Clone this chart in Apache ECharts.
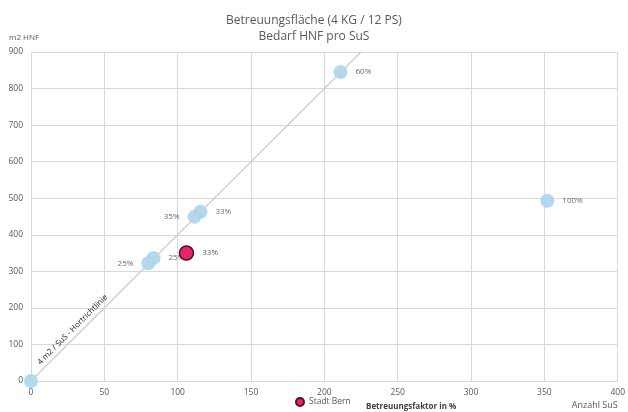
<!DOCTYPE html>
<html lang="de">
<head>
<meta charset="UTF-8" />
<script src="https://cdn.jsdelivr.net/npm/echarts@6/dist/echarts.min.js"></script>
<style>
  body{margin:0;padding:0;background:#fff;}
  #chart{width:628px;height:412px;}
</style>
</head>
<body>
<div id="chart"></div>
<script>
// Betreuungsfaktor-Punkte: [Anzahl SuS, m2 HNF]
var schoolPoints = [[0, 0], [80, 322], [83.5, 336], [111.5, 449], [115.5, 463], [211, 845], [352, 493]];
var schoolLabels = ['', '25%', '25%', '35%', '33%', '60%', '100%'];
var labelSides = ['right', 'left', 'right', 'left', 'right', 'right', 'right'];
var bernPoint = [[106, 350]];
var bernLabel = ['33%'];
var guideLine = [[0, 0], [225, 900]];  // 4 m2 / SuS
var xTicks = [0, 400, 50];
var yTicks = [0, 900, 100];

var grey = '#595959';
var font = 'Open Sans';

var chart = echarts.init(document.getElementById('chart'));

var option = {
  animation: false,
  textStyle: {fontFamily: font},
  title: {
    text: 'Betreuungsfläche (4 KG / 12 PS)\nBedarf HNF pro SuS',
    left: 'center',
    top: 8,
    textStyle: {fontSize: 12, fontWeight: 'normal', color: grey, lineHeight: 16, fontFamily: font}
  },
  grid: {left: 31, right: 8, top: 52, bottom: 31},
  xAxis: {
    type: 'value',
    min: xTicks[0], max: xTicks[1], interval: xTicks[2],
    name: 'Anzahl SuS',
    nameLocation: 'end',
    nameGap: 0,
    nameTextStyle: {color: grey, fontSize: 9, align: 'right', verticalAlign: 'top', padding: [20, 0, 0, 0]},
    axisLine: {show: true, lineStyle: {color: '#d9d9d9'}},
    axisTick: {show: false},
    axisLabel: {color: grey, fontSize: 8.5, margin: 7},
    splitLine: {show: true, lineStyle: {color: '#d9d9d9'}}
  },
  yAxis: {
    type: 'value',
    min: yTicks[0], max: yTicks[1], interval: yTicks[2],
    name: 'm2 HNF',
    nameLocation: 'end',
    nameGap: 10,
    nameTextStyle: {color: grey, fontSize: 8, align: 'left', padding: [0, 0, 0, -22]},
    axisLine: {show: true, lineStyle: {color: '#d9d9d9'}},
    axisTick: {show: false},
    axisLabel: {color: grey, fontSize: 8.5, margin: 8},
    splitLine: {show: true, lineStyle: {color: '#d9d9d9'}}
  },
  legend: {
    data: [{name: 'Stadt Bern', icon: 'circle'}],
    bottom: 0,
    left: 290,
    itemWidth: 8,
    itemHeight: 8,
    itemGap: 3,
    textStyle: {color: grey, fontSize: 8.5}
  },
  graphic: [{
    type: 'text',
    left: 366,
    top: 403,
    style: {text: 'Betreuungsfaktor in %', fill: '#404040', font: 'bold 8px "Open Sans"'}
  }],
  series: [
    {
      name: 'Hortrichtlinie',
      type: 'line',
      data: guideLine,
      symbol: 'none',
      silent: true,
      z: 1,
      lineStyle: {width: 0},
      markLine: {
        silent: true,
        symbol: 'none',
        lineStyle: {color: '#d0d0d0', width: 1.5, type: 'solid'},
        label: {
          show: true,
          position: 'insideStartTop',
          distance: [18, 3],
          formatter: '4 m2 / SuS - Hortrichtlinie',
          color: '#1a1a1a',
          fontSize: 8,
          fontFamily: font
        },
        data: [[{coord: guideLine[0]}, {coord: guideLine[1]}]]
      }
    },
    {
      name: 'Betreuungsfaktor in %',
      type: 'scatter',
      symbolSize: 14,
      z: 3,
      itemStyle: {color: '#a9d6f0', opacity: 0.9},
      data: schoolPoints.map(function (p, i) {
        return {
          value: p,
          label: {
            show: schoolLabels[i] !== '',
            position: labelSides[i],
            formatter: schoolLabels[i],
            color: grey,
            fontSize: 8,
            distance: 8
          }
        };
      })
    },
    {
      name: 'Stadt Bern',
      type: 'scatter',
      symbolSize: 14,
      z: 4,
      itemStyle: {color: '#e5266c', borderColor: '#5c0a2c', borderWidth: 1.5, opacity: 1},
      label: {show: true, position: 'right', formatter: bernLabel[0], color: grey, fontSize: 8, distance: 8},
      data: bernPoint
    }
  ]
};

chart.setOption(option);
</script>
</body>
</html>
